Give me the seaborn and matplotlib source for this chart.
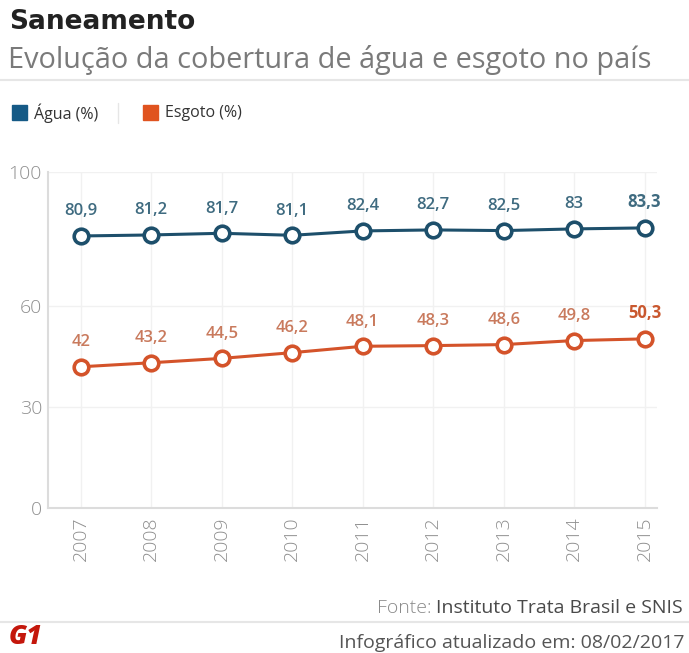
import matplotlib
matplotlib.use("Agg")
import matplotlib.pyplot as plt
import seaborn as sns
import pandas as pd

years = [2007, 2008, 2009, 2010, 2011, 2012, 2013, 2014, 2015]
agua = [80.9, 81.2, 81.7, 81.1, 82.4, 82.7, 82.5, 83.0, 83.3]
esgoto = [42.0, 43.2, 44.5, 46.2, 48.1, 48.3, 48.6, 49.8, 50.3]
yticks = [0, 30, 60, 100]

AGUA_C = "#1d4f6b"
AGUA_T = "#3f6b80"
ESG_C = "#d4532a"
ESG_T = "#c97a5d"

sns.set_theme(style="white")
plt.rcParams["font.family"] = ["Open Sans", "DejaVu Sans"]

df = pd.DataFrame({"ano": years + years,
                   "valor": agua + esgoto,
                   "serie": ["Água"] * len(years) + ["Esgoto"] * len(years)})

fig = plt.figure(figsize=(6.89, 6.53), dpi=100)
ax = fig.add_axes([0.069, 0.222, 0.885, 0.515])

for name, col in [("Água", AGUA_C), ("Esgoto", ESG_C)]:
    sub = df[df["serie"] == name]
    sns.lineplot(data=sub, x="ano", y="valor", ax=ax, color=col, linewidth=2.2,
                 marker="o", markersize=10.5, markerfacecolor="white",
                 markeredgecolor=col, markeredgewidth=2.6, legend=False, zorder=3)

n = len(years)
for i, (x, v) in enumerate(zip(years, agua)):
    ax.annotate(f"{v:g}".replace(".", ","), (x, v), xytext=(0, 12), textcoords="offset points",
                ha="center", va="bottom", fontsize=12, color=AGUA_T,
                fontweight="bold" if i == n - 1 else "semibold")
for i, (x, v) in enumerate(zip(years, esgoto)):
    ax.annotate(f"{v:g}".replace(".", ","), (x, v), xytext=(0, 12), textcoords="offset points",
                ha="center", va="bottom", fontsize=12, color=ESG_T if i < n - 1 else "#c9582f",
                fontweight="bold" if i == n - 1 else "semibold")

ax.set_xlim(2006.53, 2015.18)
ax.set_ylim(0, 100)
ax.set_yticks(yticks)
ax.set_yticklabels([str(t) for t in yticks])
ax.set_xticks(years)
ax.set_xticklabels([str(y) for y in years], rotation=90)
ax.set_xlabel("")
ax.set_ylabel("")
ax.tick_params(axis="both", length=0, labelsize=14, labelcolor="#8f8f8f", pad=6)
ax.tick_params(axis="y", pad=4)
for lbl in ax.get_xticklabels() + ax.get_yticklabels():
    lbl.set_fontweight("light")
for s in ["top", "right"]:
    ax.spines[s].set_visible(False)
for s in ["left", "bottom"]:
    ax.spines[s].set_color("#dcdcdc")
    ax.spines[s].set_linewidth(1.5)
ax.grid(True, color="#f1f1f1", linewidth=1.0)
ax.set_axisbelow(True)

# Title and subtitle
fig.text(0.013, 0.967, "Saneamento", fontsize=19, fontweight="bold", color="#222222",
         ha="left", va="center", family=["DejaVu Sans"])
fig.text(0.012, 0.908, "Evolução da cobertura de água e esgoto no país", fontsize=20.8,
         color="#7a7a7a", ha="left", va="center")
fig.add_artist(plt.Line2D([0, 1], [0.877, 0.877], color="#e6e6e6", linewidth=1.5,
                          transform=fig.transFigure))

# Legend
fig.patches.append(plt.Rectangle((0.017, 0.816), 0.022, 0.023, color="#155a86",
                                 transform=fig.transFigure, figure=fig))
fig.text(0.050, 0.827, "Água (%)", fontsize=11.5, color="#333333", ha="left", va="center")
fig.add_artist(plt.Line2D([0.171, 0.171], [0.812, 0.842], color="#e6e6e6", linewidth=1,
                          transform=fig.transFigure))
fig.patches.append(plt.Rectangle((0.207, 0.816), 0.022, 0.023, color="#e0531f",
                                 transform=fig.transFigure, figure=fig))
fig.text(0.240, 0.827, "Esgoto (%)", fontsize=11.5, color="#333333", ha="left", va="center")

# Footer
t1 = fig.text(0.991, 0.069, "Instituto Trata Brasil e SNIS", fontsize=14, color="#4a4a4a",
              ha="right", va="center", fontweight="medium")
fig.canvas.draw()
bb = t1.get_window_extent()
fig.text(bb.x0 / fig.bbox.width, 0.069, "Fonte: ", fontsize=14, color="#8a8a8a",
         ha="right", va="center", fontweight="light")
fig.add_artist(plt.Line2D([0, 1], [0.047, 0.047], color="#e6e6e6", linewidth=1.5,
                          transform=fig.transFigure))
fig.text(0.012, 0.024, "G1", fontsize=19, fontweight="heavy", color="#c4170c",
         ha="left", va="center", fontstyle="italic")
fig.text(0.994, 0.016, "Infográfico atualizado em: 08/02/2017", fontsize=14,
         color="#555555", ha="right", va="center")

fig.savefig("out.png", dpi=100, facecolor="white")
